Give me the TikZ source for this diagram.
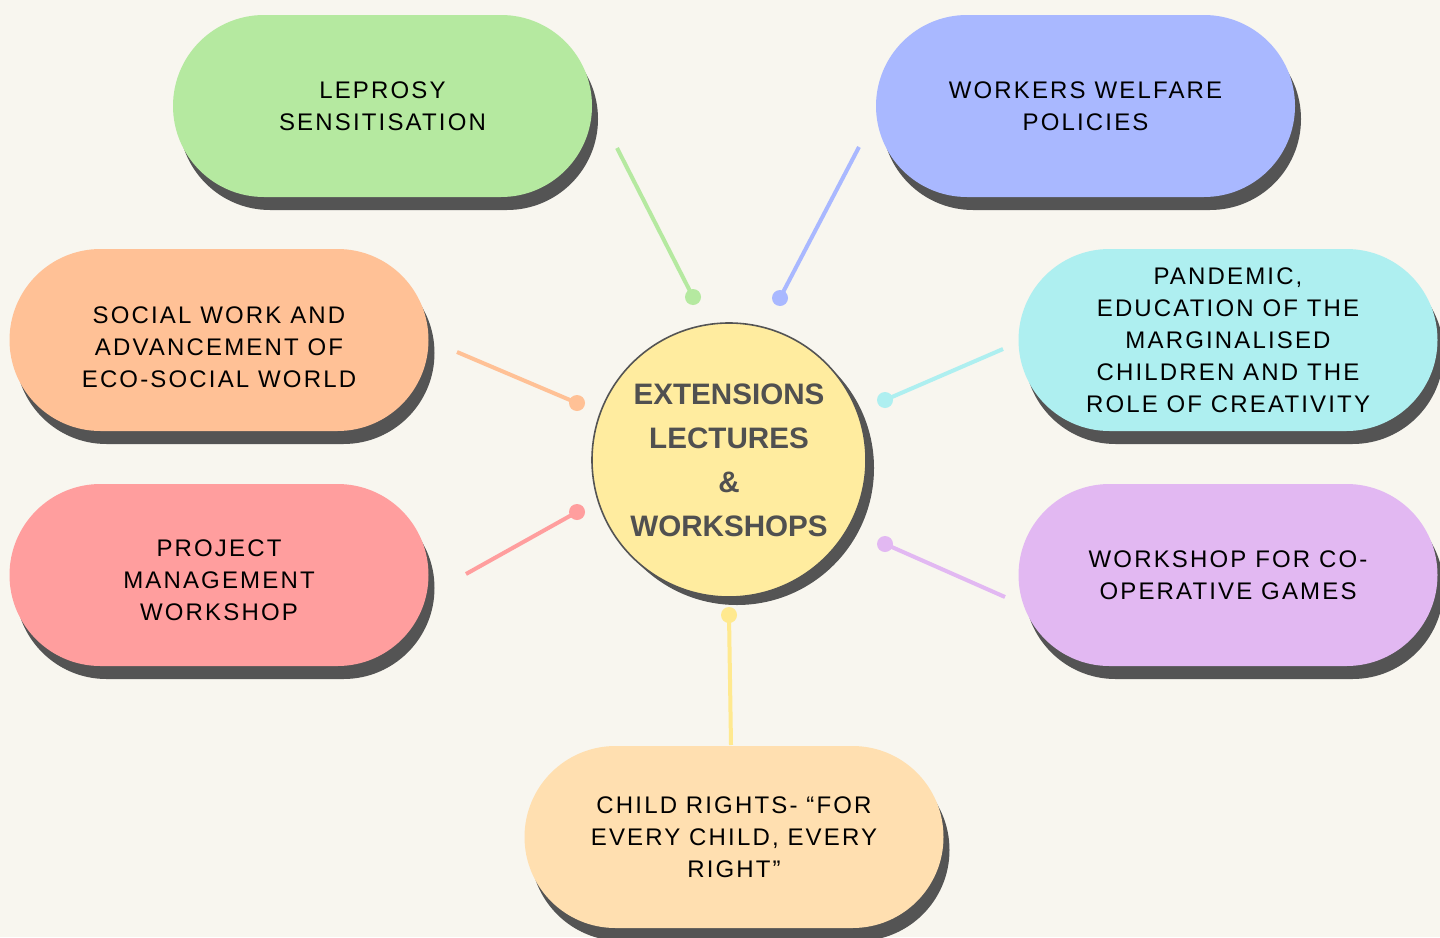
\documentclass[tikz,border=0pt]{standalone}
\usepackage{fontspec}
\usepackage{tikz}
\usetikzlibrary{shadows}
\setmainfont{Liberation Sans}
\newfontfamily\pillfont[LetterSpace=9]{Liberation Sans}
\definecolor{paper}{HTML}{F8F6EF}
\definecolor{shadowgrey}{HTML}{545454}
\definecolor{hubtext}{HTML}{505050}
\definecolor{leafgreen}{HTML}{B5E9A0}
\definecolor{leafblue}{HTML}{A9B8FF}
\definecolor{leaforange}{HTML}{FFC196}
\definecolor{leafcyan}{HTML}{AEEFF0}
\definecolor{leafred}{HTML}{FF9E9E}
\definecolor{leafpurple}{HTML}{E2B8F2}
\definecolor{leafpeach}{HTML}{FFDFB0}
\definecolor{hubyellow}{HTML}{FFEC9F}
\definecolor{linkyellow}{HTML}{FFE98F}
\tikzset{
	pill/.style={rectangle, rounded corners=45.5pt, minimum width=209.5pt, minimum height=91pt, align=center, text=black, font=\pillfont\fontsize{12}{16}\selectfont, drop shadow={shadow xshift=3pt, shadow yshift=-6.5pt, fill=shadowgrey, opacity=1}},
	hub/.style={circle, fill=hubyellow, draw=shadowgrey, line width=0.8pt, minimum size=137pt, align=center, text=hubtext, font=\bfseries\fontsize{14.8}{22}\selectfont, drop shadow={shadow xshift=4pt, shadow yshift=-4pt, fill=shadowgrey, opacity=1}},
	knob/.style={circle, inner sep=0pt, minimum size=8pt},
	link/.style={line width=2pt},
}
\begin{document}
\begin{tikzpicture}[x=0.5pt, y=-0.5pt]
	\useasboundingbox (0,0) rectangle (1440,937);
	\fill[paper] (0,0) rectangle (1440,937);
	\node[pill, fill=leafgreen] at (382.5,106) (leprosy) {LEPROSY\\SENSITISATION};
	\node[pill, fill=leafblue] at (1085.5,106) (workers) {WORKERS WELFARE\\POLICIES};
	\node[pill, fill=leaforange] at (219,340) (social) {\rule{0pt}{15.6pt}SOCIAL WORK AND\\ADVANCEMENT OF\\ECO-SOCIAL WORLD};
	\node[pill, fill=leafcyan] at (1228,340) (pandemic) {PANDEMIC,\\EDUCATION OF THE\\MARGINALISED\\CHILDREN AND THE\\ROLE OF CREATIVITY};
	\node[pill, fill=leafred] at (219,575) (project) {\rule{0pt}{13.6pt}PROJECT\\MANAGEMENT\\WORKSHOP};
	\node[pill, fill=leafpurple] at (1228,575) (games) {WORKSHOP FOR CO-\\OPERATIVE GAMES};
	\node[pill, fill=leafpeach] at (734,837) (rights) {CHILD RIGHTS- “FOR\\EVERY CHILD, EVERY\\RIGHT”};
	\node[hub] at (729,460) (hub) {EXTENSIONS\\LECTURES\\\&\\WORKSHOPS};
	\node[knob, fill=leafgreen] at (693,297) (kleprosy) {};
	\node[knob, fill=leafblue] at (780,298) (kworkers) {};
	\node[knob, fill=leaforange] at (577,403) (ksocial) {};
	\node[knob, fill=leafcyan] at (885,400) (kpandemic) {};
	\node[knob, fill=leafred] at (577,512) (kproject) {};
	\node[knob, fill=leafpurple] at (885,544) (kgames) {};
	\node[knob, fill=linkyellow] at (729,615) (krights) {};
	\coordinate (eleprosy) at (617,148);
	\coordinate (eworkers) at (859,147);
	\coordinate (esocial) at (457,352);
	\coordinate (epandemic) at (1003,349);
	\coordinate (eproject) at (466,574);
	\coordinate (egames) at (1005,597);
	\coordinate (erights) at (731,745);
	\path[link, draw=leafgreen] (eleprosy) edge (kleprosy.center);
	\path[link, draw=leafblue] (eworkers) edge (kworkers.center);
	\path[link, draw=leaforange] (esocial) edge (ksocial.center);
	\path[link, draw=leafcyan] (epandemic) edge (kpandemic.center);
	\path[link, draw=leafred] (eproject) edge (kproject.center);
	\path[link, draw=leafpurple] (egames) edge (kgames.center);
	\path[link, draw=linkyellow] (erights) edge (krights.center);
\end{tikzpicture}
\end{document}
